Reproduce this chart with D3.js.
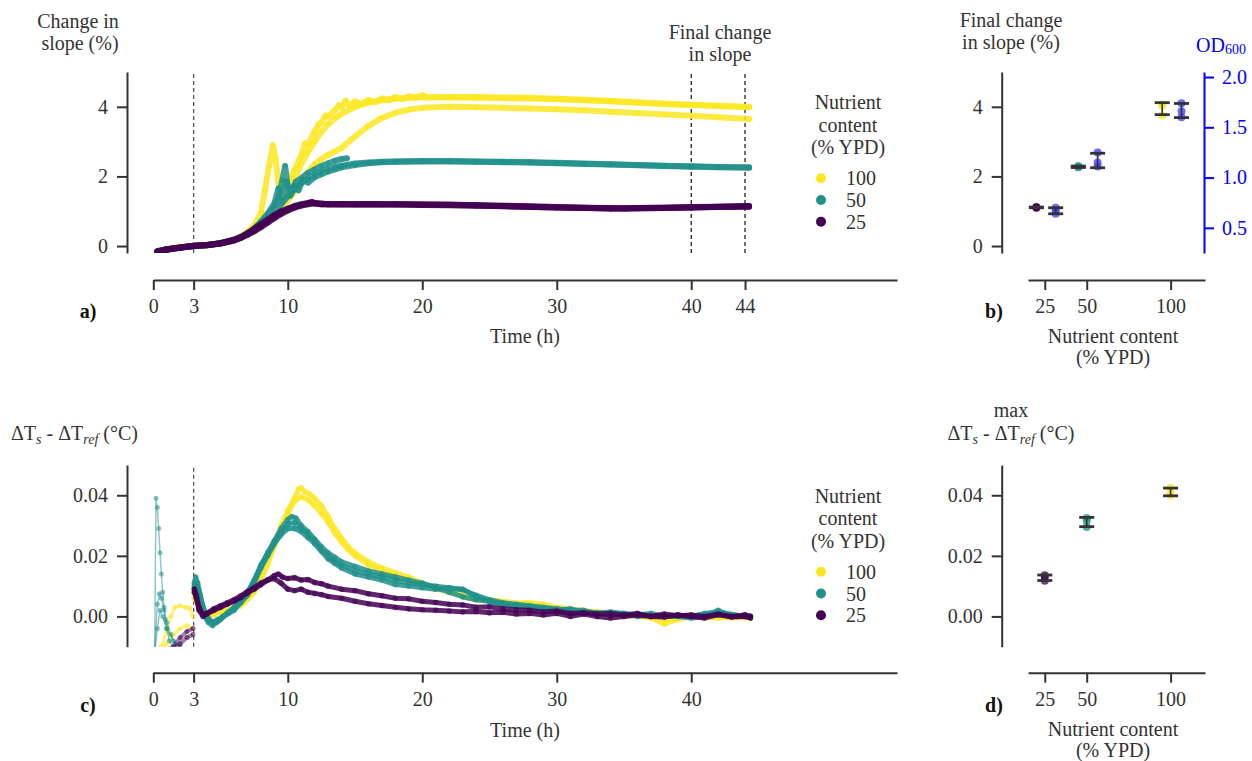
<!DOCTYPE html>
<html>
<head>
<meta charset="utf-8">
<script src="https://cdn.jsdelivr.net/npm/d3@7"></script>
<style>
  body { margin: 0; background: #fff; }
  svg, svg text { font-family: 'Liberation Serif', 'DejaVu Serif', serif !important; }
  svg text { font-size: 20px; fill: #333; }
</style>
</head>
<body>
<svg id="fig" width="1252" height="761" font-family="Liberation Serif, serif"></svg>
<script>
// ---- data: change in slope (%), [time h, value] per replicate ----
const slope25 = [
  [[0.3,-0.17],[1,-0.11],[2,-0.05],[3,0.0],[4,0.03],[5,0.08],[6,0.18],[6.5,0.26],[7,0.37],[7.5,0.5],[8,0.63],[8.5,0.76],[9,0.89],[9.5,1.0],[10,1.08],[10.5,1.15],[11,1.2],[11.5,1.24],[11.8,1.27],[12,1.22],[12.5,1.2],[13,1.21],[14,1.21],[15,1.2],[16,1.21],[17,1.2],[18,1.2],[19,1.2],[20,1.19],[22,1.19],[24,1.17],[26,1.16],[28,1.14],[30,1.12],[32,1.1],[34,1.09],[35,1.08],[36,1.09],[38,1.1],[40,1.12],[42,1.13],[44.3,1.14]],
  [[0.3,-0.16],[1,-0.1],[2,-0.04],[3,0.0],[4,0.02],[5,0.07],[6,0.16],[6.5,0.23],[7,0.32],[7.5,0.42],[8,0.54],[8.5,0.67],[9,0.8],[9.5,0.92],[10,1.02],[10.5,1.1],[11,1.16],[11.5,1.2],[12,1.23],[12.5,1.2],[13,1.19],[14,1.19],[15,1.19],[16,1.2],[17,1.19],[18,1.19],[20,1.18],[22,1.17],[24,1.16],[26,1.14],[28,1.12],[30,1.11],[32,1.09],[34,1.08],[36,1.08],[38,1.09],[40,1.11],[42,1.12],[44.3,1.13]],
  [[0.3,-0.15],[1,-0.09],[2,-0.04],[3,0.01],[4,0.03],[5,0.08],[6,0.17],[6.5,0.24],[7,0.34],[7.5,0.46],[8,0.58],[8.5,0.71],[9,0.84],[9.5,0.96],[10,1.05],[10.5,1.13],[11,1.18],[11.5,1.22],[12,1.24],[12.5,1.22],[13,1.2],[14,1.2],[16,1.2],[18,1.2],[20,1.19],[22,1.18],[24,1.17],[26,1.15],[28,1.13],[30,1.11],[32,1.1],[34,1.08],[36,1.09],[38,1.1],[40,1.11],[42,1.13],[44.3,1.15]]
];
const slope50 = [
  [[0.3,-0.16],[1,-0.1],[2,-0.04],[3,0.0],[4,0.03],[5,0.08],[6,0.18],[6.5,0.25],[7,0.36],[7.5,0.5],[8,0.68],[8.5,0.9],[9,1.15],[9.3,1.4],[9.6,1.9],[9.8,2.3],[10,1.7],[10.3,1.6],[10.6,1.85],[11,1.95],[11.5,2.1],[12,2.2],[12.5,2.3],[13,2.38],[13.5,2.45],[14,2.5],[14.4,2.52]],
  [[0.3,-0.16],[1,-0.1],[2,-0.05],[3,0.0],[4,0.02],[5,0.07],[6,0.16],[6.5,0.24],[7,0.34],[7.5,0.46],[8,0.6],[8.5,0.77],[9,0.97],[9.5,1.2],[10,1.42],[10.5,1.62],[11,1.8],[11.5,1.94],[12,2.05],[12.5,2.14],[13,2.21],[13.5,2.27],[14,2.31],[15,2.37],[16,2.4],[17,2.42],[18,2.43],[20,2.44],[22,2.44],[24,2.43],[26,2.42],[28,2.41],[30,2.39],[32,2.37],[34,2.35],[36,2.33],[38,2.31],[40,2.29],[42,2.27],[44.3,2.26]],
  [[0.3,-0.15],[1,-0.09],[2,-0.04],[3,0.01],[4,0.03],[5,0.08],[6,0.17],[6.5,0.25],[7,0.35],[7.5,0.5],[8,0.7],[8.5,0.93],[9,1.22],[9.3,1.65],[9.6,1.3],[9.9,1.85],[10.2,1.45],[10.5,1.72],[10.8,1.6],[11.1,1.9],[11.5,1.82],[12,1.98],[12.5,2.06],[13,2.14],[13.5,2.2],[14,2.26],[15,2.33],[16,2.38],[17,2.41],[18,2.42],[20,2.43],[22,2.43],[24,2.42],[26,2.41],[28,2.4],[30,2.38],[32,2.36],[34,2.34],[36,2.32],[38,2.3],[40,2.28],[42,2.26],[44.3,2.25]]
];
const slope100 = [
  [[0.3,-0.15],[1,-0.09],[2,-0.03],[3,0.01],[4,0.03],[5,0.08],[6,0.17],[6.5,0.25],[7,0.35],[7.5,0.48],[8,0.66],[8.5,0.88],[9,1.1],[9.5,1.35],[10,1.75],[10.5,2.2],[11,2.6],[11.3,2.95],[11.5,2.9],[12,3.3],[12.3,3.5],[12.5,3.55],[12.8,3.75],[13,3.72],[13.5,3.9],[13.8,4.05],[14,3.98],[14.3,4.18],[14.6,4.02],[15,4.16],[15.5,4.08],[16,4.2],[16.5,4.13],[17,4.24],[17.5,4.19],[18,4.28],[18.5,4.22],[19,4.3],[19.5,4.26],[20,4.34],[20.3,4.27],[22,4.28],[24,4.28],[26,4.27],[28,4.26],[30,4.23],[32,4.2],[34,4.17],[36,4.13],[38,4.09],[40,4.06],[42,4.03],[44.3,4.0]],
  [[0.3,-0.16],[1,-0.1],[2,-0.04],[3,0.0],[4,0.02],[5,0.07],[6,0.16],[6.5,0.24],[7,0.33],[7.5,0.45],[8,0.6],[8.5,0.8],[9,0.98],[9.5,1.12],[10,1.3],[10.5,1.55],[11,1.85],[11.5,2.12],[12,2.35],[12.5,2.5],[13,2.62],[13.5,2.72],[14,2.82],[15,3.15],[16,3.45],[17,3.68],[18,3.83],[19,3.92],[20,3.97],[22,4.0],[24,3.99],[26,3.97],[28,3.95],[30,3.93],[32,3.9],[34,3.86],[36,3.82],[38,3.78],[40,3.74],[42,3.7],[44.3,3.65]],
  [[0.3,-0.15],[1,-0.09],[2,-0.03],[3,0.01],[4,0.03],[5,0.09],[6,0.19],[6.5,0.28],[7,0.4],[7.5,0.6],[8,0.95],[8.3,1.6],[8.6,2.3],[8.9,2.9],[9.1,2.5],[9.3,1.8],[9.6,1.5],[10,1.65],[10.5,1.95],[11,2.35],[11.5,2.7],[12,3.0],[12.5,3.28],[13,3.5],[13.5,3.66],[14,3.8],[15,4.0],[16,4.12],[17,4.19],[18,4.23],[19,4.26],[20,4.28],[22,4.27],[24,4.26],[26,4.25],[28,4.24],[30,4.22],[32,4.19],[34,4.16],[36,4.12],[38,4.08],[40,4.05],[42,4.02],[44.3,3.99]]
];

// ---- data: ΔTs - ΔTref (°C) ----
const dT25 = [
  [[0.3,-0.011],[0.6,-0.011],[1.0,-0.011],[1.5,-0.01],[2.0,-0.007],[2.5,-0.005],[2.95,-0.004],[3.05,0.008],[3.2,0.006],[3.4,0.002],[3.7,0.0],[4.0,0.001],[4.5,0.002],[5.0,0.003],[5.5,0.004],[6.0,0.005],[6.5,0.0062],[7.0,0.0078],[7.5,0.009],[8.0,0.0105],[8.5,0.012],[9.0,0.0135],[9.3,0.014],[9.6,0.013],[10.0,0.0125],[10.5,0.0128],[11.0,0.012],[11.5,0.0122],[12.0,0.0112],[12.5,0.0108],[13,0.01],[14,0.009],[15,0.0085],[16,0.0075],[17,0.0068],[18,0.006],[19,0.0058],[20,0.005],[21,0.0046],[22,0.004],[23,0.0038],[24,0.003],[25,0.0032],[26,0.0025],[27,0.0022],[28,0.002],[29,0.0015],[30,0.0018],[31,0.001],[32,0.0012],[33,0.0008],[34,0.001],[35,0.0005],[36,0.001],[37,0.0],[38,0.0008],[39,0.0002],[40,0.0005],[41,0.0],[42,0.0008],[43,0.0],[44,0.0005],[44.4,0.0]],
  [[0.3,-0.012],[1.0,-0.012],[1.5,-0.011],[2.0,-0.009],[2.5,-0.007],[2.95,-0.006],[3.05,0.009],[3.2,0.007],[3.4,0.003],[3.7,0.0005],[4.0,0.001],[4.5,0.0025],[5.0,0.0035],[5.5,0.0045],[6.0,0.0055],[6.5,0.0068],[7.0,0.0082],[7.5,0.0095],[8.0,0.011],[8.5,0.012],[9.0,0.0125],[9.5,0.011],[10.0,0.009],[10.5,0.0085],[11.0,0.009],[11.5,0.008],[12.0,0.0076],[12.5,0.0072],[13,0.0066],[14,0.006],[15,0.005],[16,0.0042],[17,0.0036],[18,0.003],[19,0.0025],[20,0.0022],[21,0.002],[22,0.0018],[23,0.0015],[24,0.0016],[25,0.0012],[26,0.0014],[27,0.0008],[28,0.001],[29,0.0005],[30,0.001],[31,0.0],[32,0.0008],[33,0.0],[34,-0.0005],[35,0.0],[36,0.0005],[37,0.0],[38,-0.0002],[39,0.0005],[40,0.0],[41,-0.0005],[42,0.0005],[43,-0.0002],[44,0.0],[44.4,-0.0005]]
];
const dT50 = [
  [[0.1,-0.012],[0.2,0.039],[0.3,0.036],[0.4,0.029],[0.5,0.021],[0.6,0.014],[0.7,0.008],[0.8,0.003],[0.9,-0.001],[1.0,-0.004],[1.2,-0.008],[1.5,-0.011],[2.0,-0.012],[2.5,-0.012],[2.95,-0.012],[3.05,0.011],[3.15,0.013],[3.3,0.011],[3.5,0.007],[3.7,0.003],[3.9,0.0],[4.1,-0.002],[4.4,-0.003],[4.7,-0.002],[5.0,-0.001],[5.5,0.001],[6.0,0.003],[6.5,0.0055],[7.0,0.008],[7.5,0.012],[8.0,0.017],[8.5,0.021],[9.0,0.025],[9.5,0.029],[10.0,0.032],[10.3,0.033],[10.6,0.0325],[11.0,0.03],[11.5,0.028],[12.0,0.0255],[12.5,0.023],[13.0,0.021],[13.5,0.0195],[14,0.018],[15,0.0165],[16,0.015],[17,0.014],[18,0.013],[19,0.012],[20,0.011],[21,0.0095],[22,0.008],[23,0.0065],[24,0.0055],[25,0.005],[26,0.004],[27,0.0035],[28,0.003],[29,0.0025],[30,0.002],[31,0.0025],[32,0.0015],[33,0.001],[34,0.0015],[35,0.001],[36,0.0005],[37,0.001],[38,0.0],[39,0.0005],[40,0.0],[41,0.001],[42,0.0015],[43,0.0005],[44,0.0],[44.4,-0.0005]],
  [[0.1,-0.012],[0.3,0.004],[0.45,0.0075],[0.6,0.006],[0.8,0.002],[1.0,-0.002],[1.3,-0.006],[1.6,-0.009],[2.0,-0.011],[2.5,-0.012],[2.95,-0.012],[3.05,0.009],[3.2,0.01],[3.4,0.006],[3.7,0.002],[4.0,-0.001],[4.4,-0.002],[4.8,-0.001],[5.2,0.0],[5.6,0.001],[6.0,0.002],[6.5,0.0045],[7.0,0.007],[7.5,0.011],[8.0,0.016],[8.5,0.02],[9.0,0.024],[9.5,0.027],[10.0,0.029],[10.5,0.029],[11.0,0.028],[11.5,0.026],[12.0,0.024],[12.5,0.0215],[13.0,0.019],[13.5,0.0175],[14,0.016],[15,0.014],[16,0.013],[17,0.012],[18,0.0105],[19,0.01],[20,0.0095],[21,0.009],[22,0.0092],[23,0.0088],[24,0.007],[25,0.0055],[26,0.0045],[27,0.004],[28,0.0035],[29,0.003],[30,0.0025],[31,0.002],[32,0.002],[33,0.001],[34,0.0005],[35,0.001],[36,0.0],[37,0.0005],[38,0.0],[39,0.0],[40,-0.0005],[41,0.0],[42,0.002],[43,0.0],[44,0.0005],[44.4,0.0]],
  [[0.1,-0.012],[0.3,-0.004],[0.5,0.002],[0.7,0.0],[1.0,-0.004],[1.5,-0.008],[2.0,-0.01],[2.5,-0.011],[2.95,-0.011],[3.05,0.01],[3.2,0.011],[3.4,0.008],[3.7,0.003],[4.0,0.0],[4.4,-0.002],[4.8,-0.0015],[5.2,0.0],[5.6,0.0015],[6.0,0.0025],[6.5,0.005],[7.0,0.0075],[7.5,0.0115],[8.0,0.0165],[8.5,0.0205],[9.0,0.0245],[9.5,0.028],[10.0,0.0305],[10.5,0.031],[11.0,0.029],[11.5,0.027],[12.0,0.025],[12.5,0.022],[13.0,0.02],[13.5,0.018],[14,0.017],[15,0.015],[16,0.014],[17,0.013],[18,0.012],[19,0.011],[20,0.0105],[21,0.01],[22,0.0095],[23,0.009],[24,0.0065],[25,0.005],[26,0.004],[27,0.0035],[28,0.003],[29,0.0025],[30,0.002],[32,0.0015],[34,0.001],[36,0.0005],[38,0.0],[40,0.0],[42,0.0015],[44,0.0],[44.4,0.0]]
];
const dT100 = [
  [[0.3,-0.012],[0.6,-0.01],[1.0,-0.005],[1.3,0.0],[1.6,0.003],[2.0,0.0035],[2.4,0.003],[2.7,0.0028],[2.95,0.0],[3.05,0.008],[3.2,0.007],[3.4,0.004],[3.7,0.0015],[4.0,0.0005],[4.5,0.001],[5.0,0.002],[5.5,0.002],[6.0,0.003],[6.5,0.004],[7.0,0.006],[7.5,0.0085],[8.0,0.0125],[8.5,0.018],[9.0,0.024],[9.5,0.03],[10.0,0.035],[10.5,0.039],[10.8,0.042],[11.0,0.0425],[11.3,0.041],[11.6,0.0405],[12.0,0.039],[12.5,0.0365],[13.0,0.033],[13.5,0.029],[14,0.026],[14.5,0.023],[15,0.021],[16,0.018],[17,0.016],[18,0.0145],[19,0.013],[20,0.011],[21,0.0095],[22,0.0085],[23,0.007],[24,0.006],[25,0.0055],[26,0.005],[27,0.0045],[28,0.0045],[29,0.004],[30,0.003],[31,0.0025],[32,0.002],[33,0.0015],[34,0.001],[35,0.0005],[36,0.0],[37,-0.0005],[38,-0.0025],[39,-0.001],[40,0.0],[41,-0.0005],[42,0.0],[43,-0.0005],[44,0.0],[44.4,-0.0005]],
  [[0.3,-0.012],[1.0,-0.009],[1.5,-0.006],[2.0,-0.004],[2.5,-0.003],[2.95,-0.004],[3.05,0.006],[3.2,0.005],[3.4,0.003],[3.7,0.001],[4.0,0.0],[4.5,0.0005],[5.0,0.0015],[5.5,0.002],[6.0,0.0025],[6.5,0.0035],[7.0,0.0055],[7.5,0.008],[8.0,0.012],[8.5,0.017],[9.0,0.023],[9.5,0.029],[10.0,0.034],[10.5,0.038],[11.0,0.0395],[11.5,0.0385],[12.0,0.0365],[12.5,0.034],[13.0,0.031],[13.5,0.0275],[14,0.0245],[14.5,0.022],[15,0.02],[16,0.017],[17,0.015],[18,0.0135],[19,0.012],[20,0.0105],[21,0.009],[22,0.008],[23,0.0065],[24,0.0055],[25,0.005],[26,0.0045],[27,0.004],[28,0.004],[29,0.0035],[30,0.0025],[31,0.002],[32,0.0015],[33,0.0015],[34,0.001],[35,0.0],[36,0.0005],[37,0.0],[38,-0.0015],[39,-0.0005],[40,0.0005],[41,0.0],[42,-0.0005],[43,0.0],[44,-0.0005],[44.4,0.0]]
];

// ---- data: summaries per nutrient content ----
const nutrients = [25, 50, 100];
const finalSlope = [[1.10, 1.11, 1.12], [2.26, 2.27, 2.30], [3.75, 4.02, 4.07]];
const od600 = [[0.64, 0.67, 0.70], [1.11, 1.15, 1.25], [1.60, 1.66, 1.74]];
const maxDT = [[0.0118, 0.0129, 0.0136], [0.0295, 0.0315, 0.0325], [0.0400, 0.0408, 0.0425]];

const colors = { 100: '#fde725', 50: '#21918c', 25: '#440154' };
const odColor = '#0000ff';
const ink = '#333';
const serif = 'Liberation Serif, serif';

const svg = d3.select('#fig');

// scales
const xTime = d3.scaleLinear().domain([0, 55.3]).range([153.3, 897]);
const ySlope = d3.scaleLinear().domain([-0.2, 5.0]).range([253, 72]);
const yDT = d3.scaleLinear().domain([-0.01, 0.05]).range([646.7, 465]);
const xNut = d3.scaleLinear().domain([15, 120.5]).range([1028, 1205]);
const yOD = d3.scaleLinear().domain([0.25, 2.05]).range([253, 72]);

function drawAxis(gen, tx, ty, color) {
  const c = color || ink;
  const g = svg.append('g').attr('transform', `translate(${tx},${ty})`).call(gen);
  g.attr('font-family', serif).attr('font-size', 20).style('color', c);
  g.select('.domain').attr('stroke-width', 2);
  g.selectAll('.tick line').attr('stroke-width', 2);
  g.selectAll('.tick text').style('fill', c).attr('font-family', serif).attr('font-size', 20);
  return g;
}
const intFmt = d3.format('d');

// axes
drawAxis(d3.axisLeft(ySlope).tickValues([0, 2, 4]).tickFormat(intFmt).tickSize(10).tickSizeOuter(0).tickPadding(9), 127, 0);
drawAxis(d3.axisBottom(xTime).tickValues([0, 3, 10, 20, 30, 40, 44]).tickFormat(intFmt).tickSize(10).tickSizeOuter(0).tickPadding(9), 0, 280);
drawAxis(d3.axisLeft(yDT).tickValues([0, 0.02, 0.04]).tickFormat(d3.format('.2f')).tickSize(10).tickSizeOuter(0).tickPadding(9), 127, 0);
drawAxis(d3.axisBottom(xTime).tickValues([0, 3, 10, 20, 30, 40]).tickFormat(intFmt).tickSize(10).tickSizeOuter(0).tickPadding(9), 0, 672.7);

drawAxis(d3.axisLeft(ySlope).tickValues([0, 2, 4]).tickFormat(intFmt).tickSize(10).tickSizeOuter(0).tickPadding(9), 1001.7, 0);
drawAxis(d3.axisRight(yOD).tickValues([0.5, 1.0, 1.5, 2.0]).tickFormat(d3.format('.1f')).tickSize(10).tickSizeOuter(0).tickPadding(8), 1204, 0, odColor);
drawAxis(d3.axisBottom(xNut).tickValues(nutrients).tickFormat(intFmt).tickSize(10).tickSizeOuter(0).tickPadding(9), 0, 280);
drawAxis(d3.axisLeft(yDT).tickValues([0, 0.02, 0.04]).tickFormat(d3.format('.2f')).tickSize(10).tickSizeOuter(0).tickPadding(9), 1001.7, 0);
drawAxis(d3.axisBottom(xNut).tickValues(nutrients).tickFormat(intFmt).tickSize(10).tickSizeOuter(0).tickPadding(9), 0, 672.7);

// dashed reference lines
function vdash(t, yScale, color) {
  const [y0, y1] = yScale.range();
  svg.append('line').attr('x1', xTime(t)).attr('x2', xTime(t)).attr('y1', y0).attr('y2', y1)
    .attr('stroke', color).attr('stroke-width', 1.3).attr('stroke-dasharray', '4,3');
}
vdash(3, ySlope, '#555');
vdash(40, ySlope, '#222');
vdash(44, ySlope, '#222');
vdash(3, yDT, '#555');

// clip for time-series panels
const defs = svg.append('defs');
defs.append('clipPath').attr('id', 'clipA').append('rect').attr('x', 140).attr('y', 72).attr('width', 760).attr('height', 181);
defs.append('clipPath').attr('id', 'clipC').append('rect').attr('x', 140).attr('y', 465).attr('width', 760).attr('height', 181.7);

function drawSeries(reps, yScale, color, clip, width, thinEarly, earlyWidth) {
  const g = svg.append('g').attr('clip-path', `url(#${clip})`);
  const line = d3.line().x(d => xTime(d[0])).y(d => yScale(d[1]));
  reps.forEach(rep => {
    const early = thinEarly ? rep.filter(d => d[0] < 3) : [];
    const late = thinEarly ? rep.filter(d => d[0] >= 3) : rep;
    if (early.length) {
      g.append('path').attr('d', line(early)).attr('fill', 'none').attr('stroke', color)
        .attr('stroke-width', earlyWidth).attr('stroke-opacity', 0.5).attr('stroke-linejoin', 'round');
      g.selectAll(null).data(early).enter().append('circle')
        .attr('cx', d => xTime(d[0])).attr('cy', d => yScale(d[1])).attr('r', 2.5)
        .attr('fill', color).attr('fill-opacity', 0.55);
    }
    g.append('path').attr('d', line(late)).attr('fill', 'none').attr('stroke', color)
      .attr('stroke-width', width).attr('stroke-linejoin', 'round').attr('stroke-linecap', 'round')
      .attr('stroke-opacity', 0.85);
    g.selectAll(null).data(late).enter().append('circle')
      .attr('cx', d => xTime(d[0])).attr('cy', d => yScale(d[1])).attr('r', 2.8)
      .attr('fill', color).attr('fill-opacity', 0.6);
  });
}
drawSeries(slope100, ySlope, colors[100], 'clipA', 6, false);
drawSeries(slope50, ySlope, colors[50], 'clipA', 6, false);
drawSeries(slope25, ySlope, colors[25], 'clipA', 6, false);
drawSeries(dT100, yDT, colors[100], 'clipC', 5, true, 3.5);
drawSeries(dT50, yDT, colors[50], 'clipC', 5, true, 1.5);
drawSeries(dT25, yDT, colors[25], 'clipC', 5, true, 4);

// summary panels: points + mean ± sd bars
function summary(groups, yScale, offset, colorFor) {
  const g = svg.append('g');
  groups.forEach((vals, i) => {
    const x = xNut(nutrients[i] + offset);
    g.selectAll(null).data(vals).enter().append('circle')
      .attr('cx', x).attr('cy', d => yScale(d)).attr('r', 4)
      .attr('fill', colorFor(i)).attr('fill-opacity', 0.75);
  });
  groups.forEach((vals, i) => {
    const x = xNut(nutrients[i] + offset);
    const m = d3.mean(vals), s = d3.deviation(vals);
    const lo = yScale(m - s), hi = yScale(m + s);
    g.append('line').attr('x1', x).attr('x2', x).attr('y1', lo).attr('y2', hi)
      .attr('stroke', ink).attr('stroke-width', 1.6);
    [lo, hi].forEach(y => g.append('line').attr('x1', x - 7.5).attr('x2', x + 7.5)
      .attr('y1', y).attr('y2', y).attr('stroke', ink).attr('stroke-width', 2.8));
  });
}
summary(finalSlope, ySlope, -5, i => colors[nutrients[i]]);
summary(od600, yOD, 6.5, () => '#3a3aff');
summary(maxDT, yDT, 0, i => colors[nutrients[i]]);

// text helpers
function txt(x, y, s, anchor, extra) {
  const t = svg.append('text').attr('x', x).attr('y', y).attr('text-anchor', anchor || 'middle')
    .attr('font-family', serif).text(s);
  if (extra) extra(t);
  return t;
}
const bold = t => t.attr('font-weight', 'bold').style('fill', '#111');

// panel a labels
txt(78, 28, 'Change in');
txt(80, 50, 'slope (%)');
txt(720, 39, 'Final change');
txt(720, 61, 'in slope');
txt(525, 343, 'Time (h)');
txt(88, 318, 'a)', 'middle', bold);

// panel c labels
function dTLabel(x, y, anchor) {
  const t = svg.append('text').attr('x', x).attr('y', y).attr('text-anchor', anchor).attr('font-family', serif);
  t.append('tspan').text('ΔT');
  t.append('tspan').attr('font-style', 'italic').attr('font-size', 14).attr('dy', 4).text('s');
  t.append('tspan').attr('dy', -4).text(' - ΔT');
  t.append('tspan').attr('font-style', 'italic').attr('font-size', 14).attr('dy', 4).text('ref');
  t.append('tspan').attr('dy', -4).text(' (°C)');
}
dTLabel(11, 440, 'start');
txt(525, 737, 'Time (h)');
txt(88, 712, 'c)', 'middle', bold);

// panel b labels
txt(1011, 27, 'Final change');
txt(1011, 49, 'in slope (%)');
const od = svg.append('text').attr('x', 1221).attr('y', 52).attr('text-anchor', 'middle')
  .attr('font-family', serif).style('fill', odColor);
od.append('tspan').text('OD');
od.append('tspan').attr('font-size', 14).attr('dy', 2).style('fill', odColor).text('600');
txt(1113, 343, 'Nutrient content');
txt(1113, 364, '(% YPD)');
txt(994, 318, 'b)', 'middle', bold);

// panel d labels
txt(1011, 417, 'max');
dTLabel(1011, 440, 'middle');
txt(1113, 736, 'Nutrient content');
txt(1113, 757, '(% YPD)');
txt(994, 712, 'd)', 'middle', bold);

// legends
function legend(cx, y) {
  txt(cx, y, 'Nutrient');
  txt(cx, y + 22.7, 'content');
  txt(cx, y + 45.3, '(% YPD)');
  [100, 50, 25].forEach((n, i) => {
    const yy = y + 69.3 + i * 21.7;
    svg.append('circle').attr('cx', cx - 27).attr('cy', yy).attr('r', 5).attr('fill', colors[n]);
    txt(cx - 2, yy + 7, String(n), 'start');
  });
}
legend(848, 109);
legend(848, 502.5);
</script>
</body>
</html>
